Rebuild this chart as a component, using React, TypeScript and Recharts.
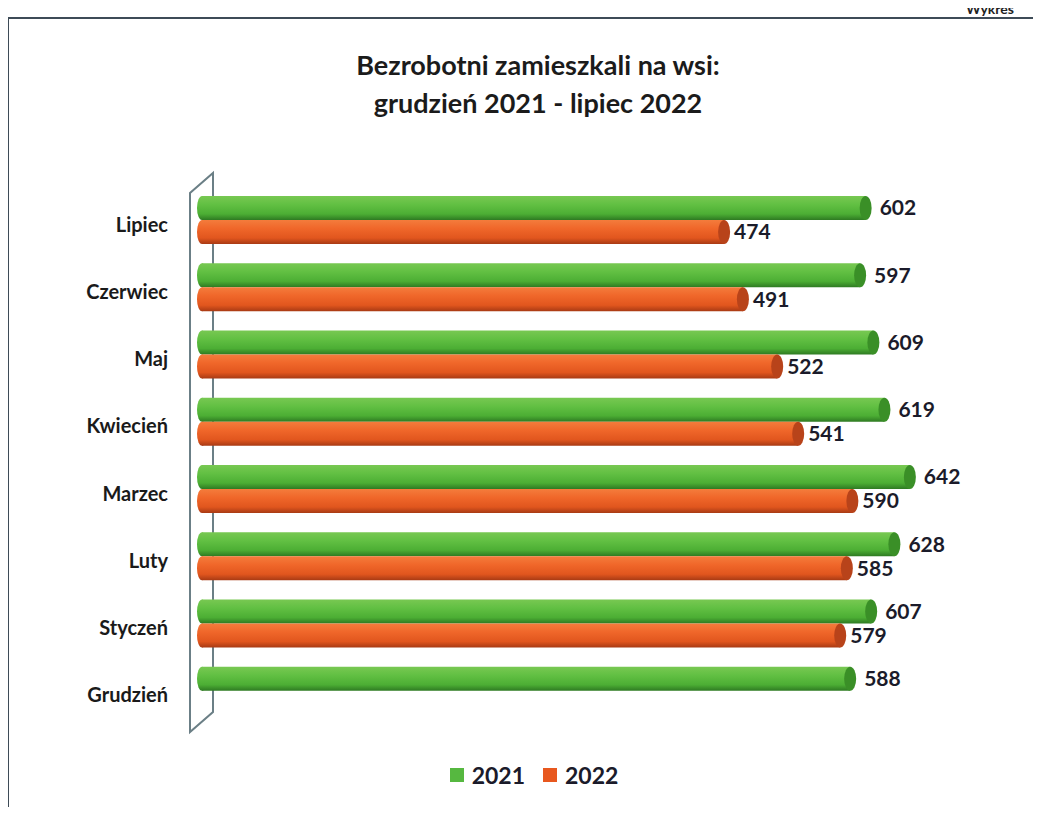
import { BarChart, Bar, XAxis, YAxis, LabelList, Legend, ReferenceArea } from 'recharts'

const months = ['Grudzień', 'Styczeń', 'Luty', 'Marzec', 'Kwiecień', 'Maj', 'Czerwiec', 'Lipiec']
const values2021 = [588, 607, 628, 642, 619, 609, 597, 602]
const values2022: (number | null)[] = [null, 579, 585, 590, 541, 522, 491, 474]

const data = months.map((m, i) => ({ month: m, y2021: values2021[i], y2022: values2022[i] }))

const font = 'Lato, "Open Sans", sans-serif'

function makeCylinder(gradId: string, capColor: string) {
  return function Cylinder(props: any) {
    const { x, y, width, height } = props
    if (!width || width <= 0) return null
    const cy = y + height / 2
    const ry = height / 2
    return (
      <g>
        <ellipse cx={x + 2} cy={cy} rx={5} ry={ry} fill={`url(#${gradId})`} />
        <rect x={x + 2} y={y} width={width - 2} height={height} fill={`url(#${gradId})`} />
        <ellipse cx={x + width} cy={cy} rx={6} ry={ry} fill={capColor} />
      </g>
    )
  }
}

function Wall(props: any) {
  const { x, y, height } = props
  const fx = x - 10
  const bx = x + 13
  const b = y + height
  return (
    <path
      d={`M${fx},${y + 7} L${fx},${b + 8} L${bx},${b - 12} L${bx},${y - 13} Z`}
      fill="none"
      stroke="#6b7f86"
      strokeWidth={2}
    />
  )
}

function LegendContent() {
  const items = [
    { label: '2021', color: '#56b840' },
    { label: '2022', color: '#e8581f' },
  ]
  return (
    <div style={{ display: 'flex', justifyContent: 'center', alignItems: 'center', gap: 18 }}>
      {items.map((it) => (
        <div key={it.label} style={{ display: 'flex', alignItems: 'center', gap: 8 }}>
          <span style={{ width: 14, height: 14, background: it.color, display: 'inline-block' }} />
          <span style={{ fontFamily: font, fontWeight: 700, fontSize: 23, color: '#1b1b2a' }}>{it.label}</span>
        </div>
      ))}
    </div>
  )
}

export default function App() {
  return (
    <div style={{ position: 'relative', width: 1041, height: 815, margin: -8, overflow: 'hidden', background: '#fff' }}>
      <div style={{ position: 'absolute', left: 7, top: 17, width: 1060, height: 788, borderTop: '2px solid #3e4b57', borderLeft: '2px solid #3e4b57', borderBottom: '2px solid #3e4b57' }} />
      <div style={{ position: 'absolute', left: 966, top: 0, fontFamily: font, fontWeight: 700, fontSize: 14, lineHeight: '17px', color: '#222' }}>Wykres</div>
      <div style={{ position: 'absolute', left: 0, width: 1076, top: 46, textAlign: 'center', fontFamily: font, fontWeight: 700, fontSize: 27, lineHeight: '38px', color: '#1b1b1b' }}>
        Bezrobotni zamieszkali na wsi:
        <br />
        grudzień 2021 - lipiec 2022
      </div>
      <div style={{ position: 'absolute', left: 0, top: 0 }}>
        <BarChart
          width={1041}
          height={815}
          data={data}
          layout="vertical"
          margin={{ top: 186, right: 67, bottom: 91, left: 0 }}
          barSize={24}
          barGap={0}
        >
          <defs>
            <linearGradient id="g2021" x1="0" y1="0" x2="0" y2="1">
              <stop offset="0%" stopColor="#78c852" />
              <stop offset="35%" stopColor="#62c043" />
              <stop offset="75%" stopColor="#4cae34" />
              <stop offset="100%" stopColor="#2e7a22" />
            </linearGradient>
            <linearGradient id="g2022" x1="0" y1="0" x2="0" y2="1">
              <stop offset="0%" stopColor="#f47c3c" />
              <stop offset="35%" stopColor="#f0672a" />
              <stop offset="75%" stopColor="#e1561e" />
              <stop offset="100%" stopColor="#a83a14" />
            </linearGradient>
          </defs>
          <XAxis type="number" domain={[0, 700]} hide />
          <YAxis
            type="category"
            dataKey="month"
            reversed
            width={200}
            axisLine={false}
            tickLine={false}
            tickSize={0}
            tickMargin={32}
            tick={{ fill: '#1a1a1a', fontSize: 20, fontWeight: 700, fontFamily: font, dy: 5 }}
          />
          <ReferenceArea x1={0} x2={20} shape={<Wall />} fill="none" stroke="none" />
          <Bar dataKey="y2021" name="2021" fill="#56b840" shape={makeCylinder('g2021', '#3a8f27')} isAnimationActive={false}>
            <LabelList dataKey="y2021" position="right" offset={14} style={{ fill: '#1b1b2a', fontSize: 21, fontWeight: 700, fontFamily: font }} />
          </Bar>
          <Bar dataKey="y2022" name="2022" fill="#e8581f" shape={makeCylinder('g2022', '#b8431a')} isAnimationActive={false}>
            <LabelList dataKey="y2022" position="right" offset={10} style={{ fill: '#1b1b2a', fontSize: 21, fontWeight: 700, fontFamily: font }} />
          </Bar>
          <Legend verticalAlign="middle" align="center" layout="horizontal" wrapperStyle={{ top: 761, left: 0, width: 1068 }} content={<LegendContent />} />
        </BarChart>
      </div>
    </div>
  )
}
